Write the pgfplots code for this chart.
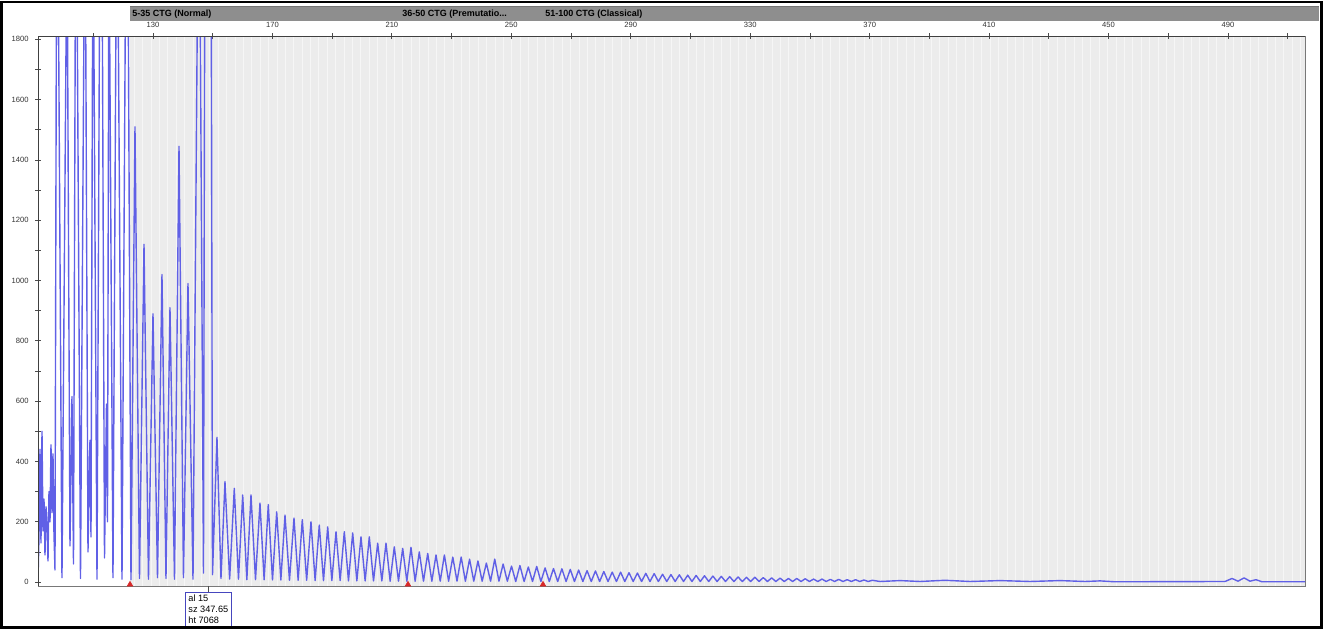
\documentclass[border=0pt]{standalone}
\usepackage{pgfplots}
\pgfplotsset{compat=1.18}
\usepackage{pgfplotstable}
\usepackage{fontspec}
\setmainfont{Liberation Sans}

\definecolor{trace}{RGB}{96,96,230}
\definecolor{binfill}{RGB}{236,236,236}
\definecolor{binline}{RGB}{246,246,246}
\definecolor{barfill}{RGB}{142,142,142}
\definecolor{frameline}{RGB}{120,120,120}
\definecolor{boxblue}{RGB}{70,70,190}
\definecolor{binred}{RGB}{215,40,40}

% blue channel signal: size (bp) and height (rfu), peak tops and the valleys between them
\pgfplotstableread{
bp signal
91.49 5
91.82 150
92.16 440
92.49 130
92.83 500
93.16 170
93.50 275
93.83 90
94.17 250
94.50 190
94.84 70
95.17 300
95.51 200
95.84 455
96.18 230
96.51 425
96.84 160
97.18 40
97.85 2700
99.52 15
101.20 2200
102.20 120
102.87 615
103.38 60
104.21 2600
105.72 12
107.23 2400
108.23 100
108.90 470
109.24 150
109.91 2300
111.25 10
112.59 3000
113.76 80
114.43 590
114.76 200
115.26 2200
116.60 15
117.94 2500
119.62 10
121.29 2800
122.63 8
123.97 1510
125.48 12
126.99 1120
128.49 10
130.00 890
131.51 15
133.01 1020
134.35 12
135.69 910
137.20 10
138.71 1445
140.21 15
141.72 990
143.40 10
145.41 2600
146.91 30
148.42 7068
149.93 25
151.43 480
152.77 12
154.11 333
155.67 10
157.23 311
158.63 10
160.04 289
161.43 8
162.82 289
164.33 8
165.83 262
167.22 8
168.61 257
170.02 7
171.43 233
172.82 7
174.21 222
175.71 6
177.22 212
178.61 6
180.00 207
181.46 6
182.91 200
184.30 5
185.69 189
187.10 5
188.51 183
189.90 5
191.29 167
192.68 5
194.07 167
195.47 4
196.88 163
198.27 4
199.66 150
201.05 4
202.44 150
203.85 4
205.25 129
206.64 4
208.03 129
209.42 3
210.81 117
212.22 3
213.62 112
215.01 3
216.40 115
217.79 3
219.18 100
220.59 3
222.00 95
223.39 3
224.78 90
226.19 3
227.59 90
229.00 3
230.40 83
231.81 3
233.21 83
234.62 3
236.02 76
237.43 3
238.83 70
240.24 3
241.64 63
243.05 3
244.45 76
245.86 3
247.26 60
248.67 3
250.07 53
251.48 2
252.88 55
254.29 2
255.69 50
257.10 2
258.50 52
259.91 2
261.31 47
262.72 2
264.12 45
265.53 2
266.93 44
268.34 2
269.74 42
271.15 2
272.55 40
273.96 2
275.36 38
276.77 2
278.17 37
279.58 2
280.98 35
282.39 2
283.79 33
285.20 2
286.60 33
288.01 2
289.41 31
290.82 2
292.22 30
293.63 2
295.03 29
296.44 2
297.84 28
299.25 2
300.65 26
302.06 2
303.46 25
304.87 2
306.27 24
307.68 2
309.08 23
310.49 2
311.89 22
313.30 2
314.70 21
316.11 2
317.51 20
318.92 2
320.32 19
321.73 2
323.13 18
324.54 2
325.94 17
327.35 2
328.75 16
330.16 2
331.56 16
332.97 2
334.37 15
335.78 2
337.18 14
338.59 2
339.99 13
341.40 2
342.80 12
344.21 2
345.61 12
347.02 2
348.42 11
349.83 2
351.23 10
352.64 2
354.04 10
355.45 2
356.85 9
358.26 2
359.66 9
361.07 2
362.47 8
363.88 2
365.28 8
366.69 2
368.09 7
369.50 2
370.90 6
373.47 2
380.17 5
386.86 2
395.24 6
403.61 2
413.66 5
423.70 2
433.75 5
442.13 2
447.15 4
452.17 1
489.01 2
491.36 12
493.37 3
495.38 14
497.39 3
499.39 8
501.40 1
515.80 1
}\trace

% starts of the three bin ranges
\pgfplotstableread{
bp signal
122.30 -8
215.40 -8
260.61 -8
}\binmarks

\begin{document}
\begin{tikzpicture}
\begin{axis}[
  set layers,
  at={(19pt,-293pt)}, anchor=south west,
  scale only axis, width=633.5pt, height=275pt,
  xmin=91.49, xmax=515.8, ymin=-13, ymax=1811,
  axis line style={draw=frameline, line width=0.5pt},
  xtick={130,170,...,490},
  minor xtick={110,150,...,510},
  xtick pos=right, xticklabel pos=right,
  ytick={0,200,...,1800}, minor ytick={100,300,...,1700},
  ytick pos=left, yticklabel pos=left,
  tick align=center,
  major tick length=3pt, minor tick length=3pt,
  every tick/.style={black!70, line width=0.4pt},
  tick label style={font=\fontsize{3.8}{4}\selectfont, text=black!80},
  /pgf/number format/assume math mode=true,
  /pgf/number format/set thousands separator={},
  xticklabel style={yshift=-0.8pt},
  yticklabel style={xshift=0.3pt},
  extra x ticks={123.71,126.52,...,514.5},
  extra x tick style={grid=major, major grid style={binline, line width=0.35pt},
    major tick length=0pt, xticklabel={}},
]
\begin{pgfonlayer}{axis background}
\fill[binfill] (axis cs:122.3,-13) rectangle (axis cs:515.8,1811);
\end{pgfonlayer}
\addplot[trace, line width=0.7pt, line join=round, mark=none] table[x=bp, y=signal] {\trace};
\addplot[only marks, mark=triangle*, mark size=1.5pt, color=binred] table[x=bp, y=signal] {\binmarks};
\draw[black!75, line width=0.5pt] (rel axis cs:0,0) -- (rel axis cs:0,1) -- (rel axis cs:1,1);
\end{axis}

% bin set bar
\fill[barfill] (65pt,-3pt) rectangle (659.5pt,-10.5pt);
\draw[black!55, line width=0.4pt] (65pt,-3pt) -- (659.5pt,-3pt);
\begin{scope}[every node/.style={anchor=west, inner sep=0pt, font=\bfseries\fontsize{4.5}{5}\selectfont}]
\node at (66pt,-6.9pt) {5-35 CTG (Normal)};
\node at (201pt,-6.9pt) {36-50 CTG (Premutatio...};
\node at (272.5pt,-6.9pt) {51-100 CTG (Classical)};
\end{scope}

% peak label of the main allele
\draw[black!70, line width=0.4pt] (104pt,-293pt) -- (104pt,-296pt);
\draw[boxblue, fill=white, line width=0.4pt] (92.5pt,-296pt) rectangle (115.5pt,-314pt);
\begin{scope}[every node/.style={anchor=west, inner sep=0pt, font=\fontsize{4.6}{5}\selectfont}]
\node at (94pt,-299.2pt) {al 15};
\node at (94pt,-304.7pt) {sz 347.65};
\node at (94pt,-310.2pt) {ht 7068};
\end{scope}

% outer frame
\draw[black, line width=1.3pt] (0.9pt,-0.9pt) rectangle (660.6pt,-313.6pt);
\pgfresetboundingbox
\path[use as bounding box] (0,0) rectangle (661.5pt,-314.5pt);
\end{tikzpicture}
\end{document}
